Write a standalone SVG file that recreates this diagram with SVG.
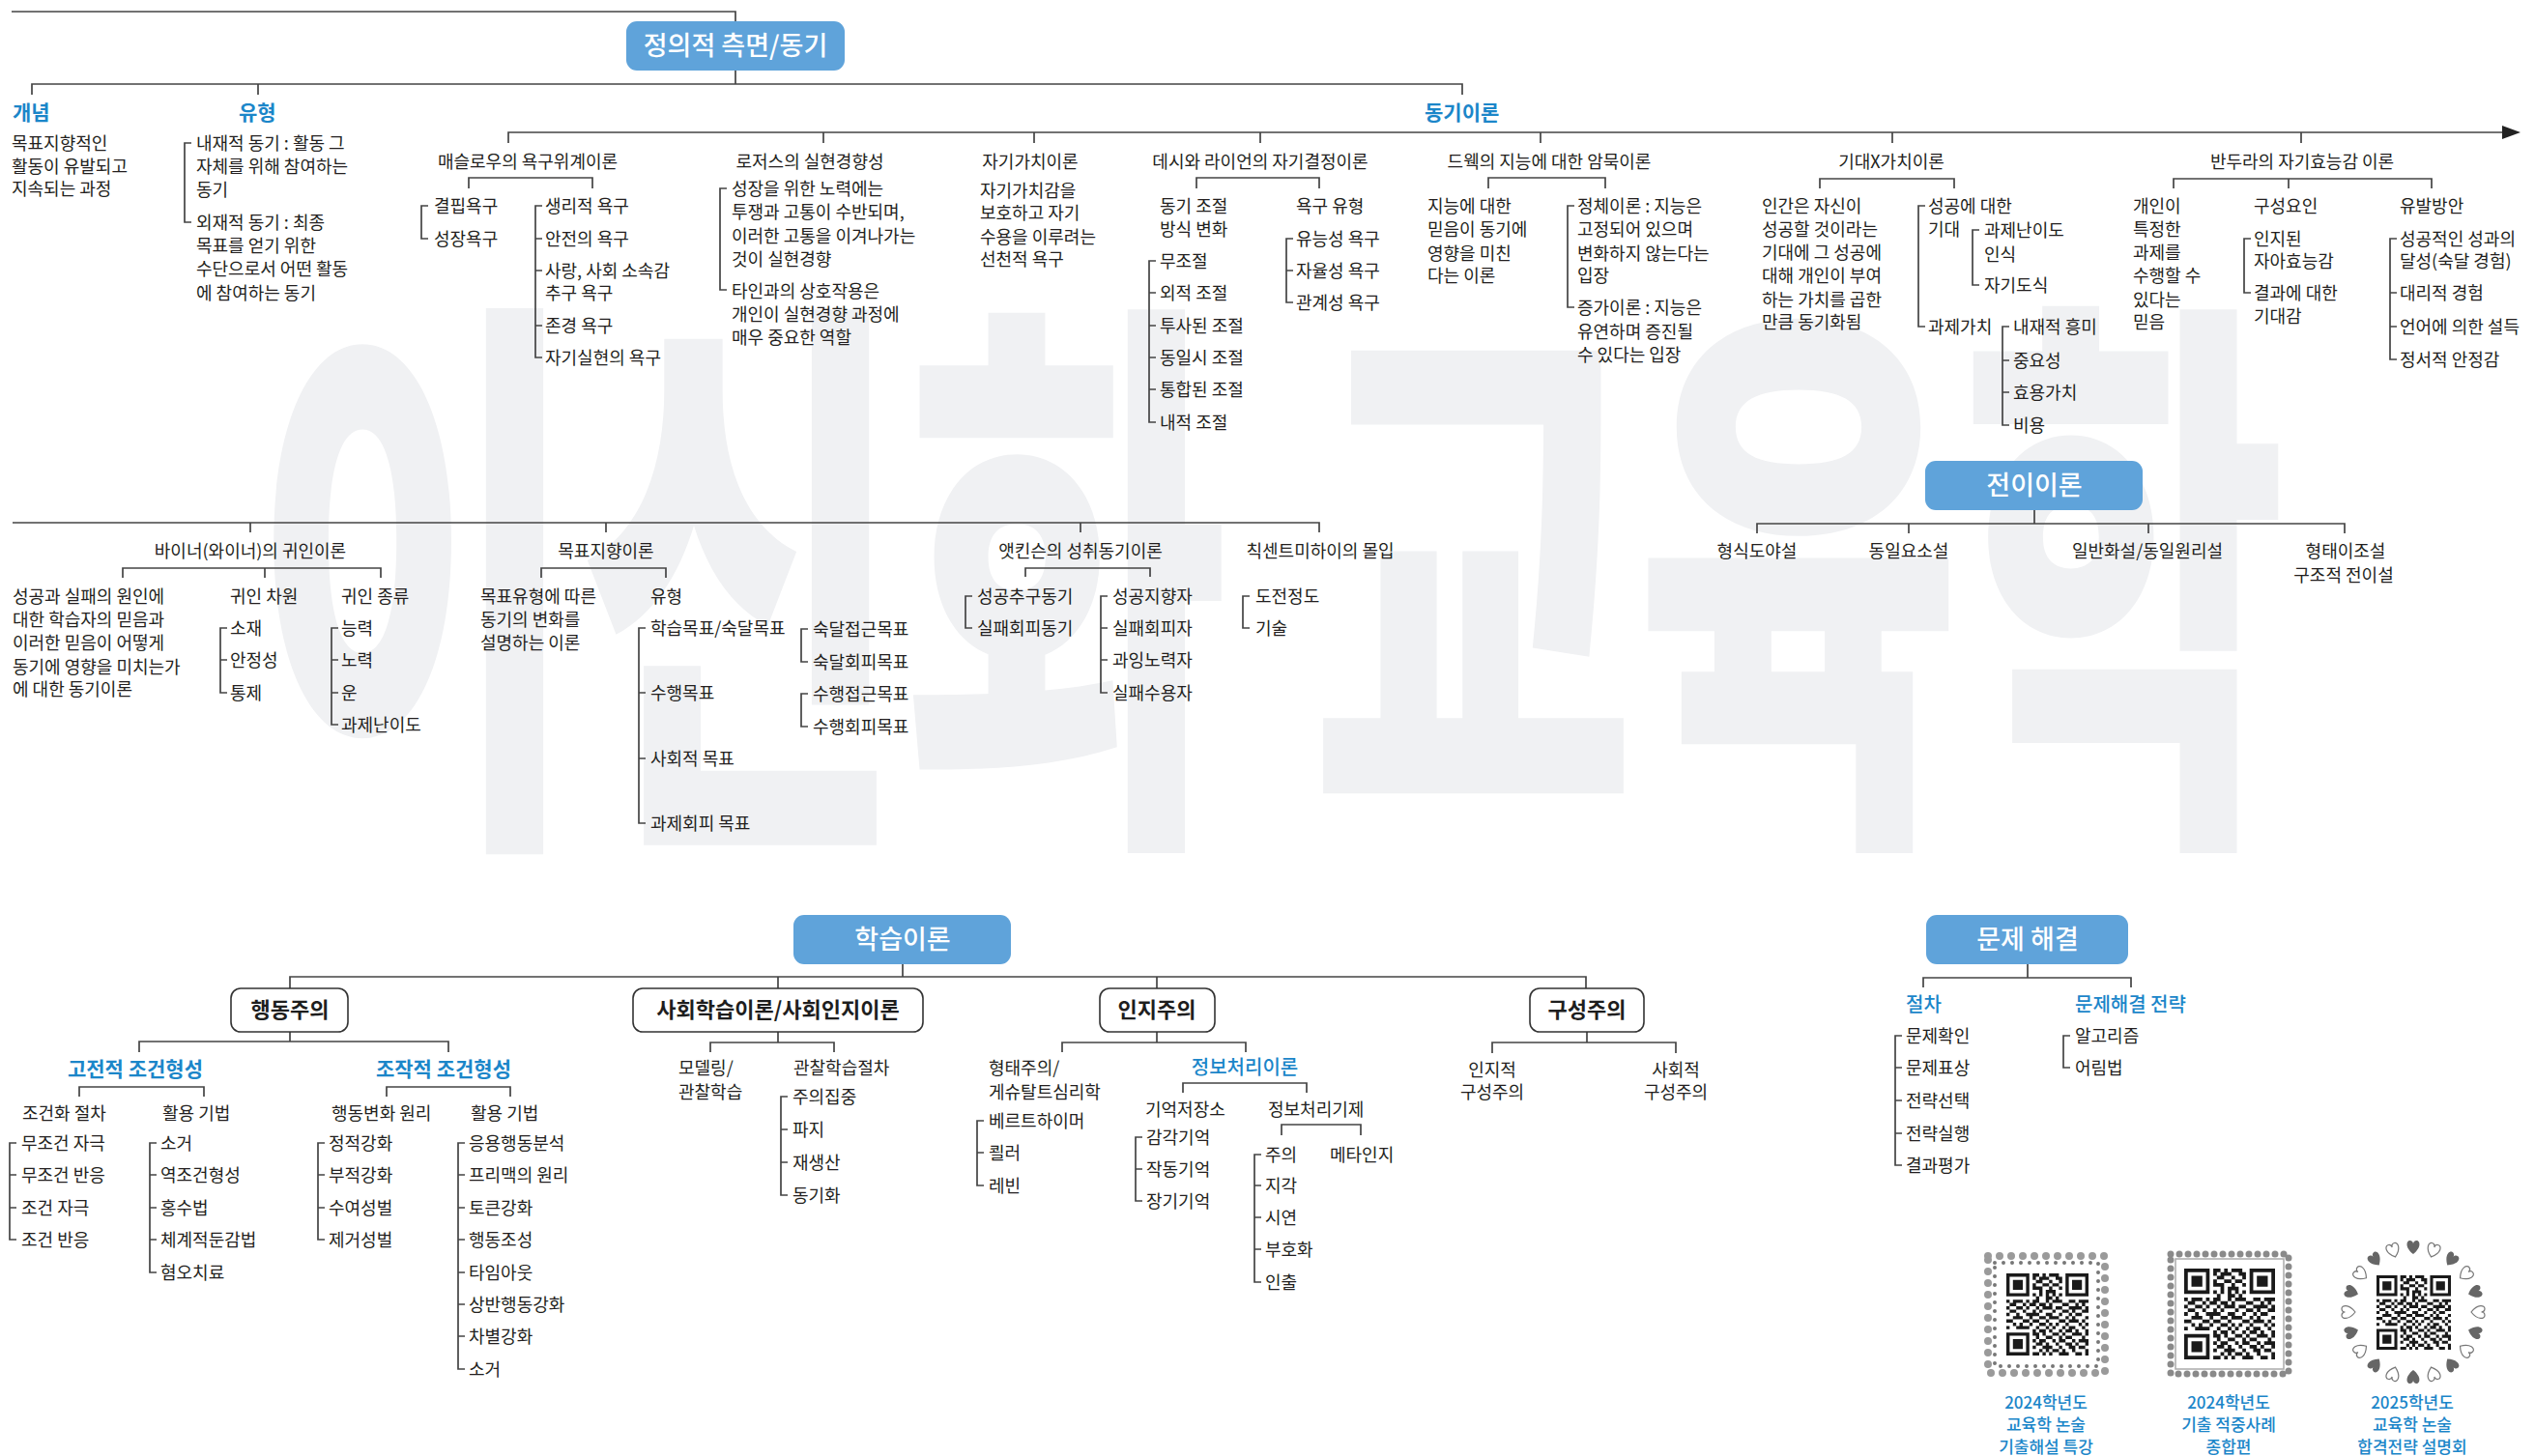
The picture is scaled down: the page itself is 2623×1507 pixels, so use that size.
<svg xmlns="http://www.w3.org/2000/svg" width="2623" height="1507" viewBox="0 0 2623 1507">
<style>
text{font-family:'Noto Sans CJK KR','Noto Sans',sans-serif;font-size:18px;fill:#231f20}
.m{text-anchor:middle}
.h{fill:#1b86c9;font-size:21px;font-weight:700}
.h2{fill:#1b86c9;font-size:20px;font-weight:500}
.bl{fill:#fff;font-size:27px;font-weight:500;text-anchor:middle}
.wt{font-size:22px;font-weight:700;text-anchor:middle;fill:#1e1e1e}
.cap{fill:#1b86c9;font-size:17px;font-weight:500;text-anchor:middle}
.ln{fill:none;stroke:#444;stroke-width:1.7}
.box{fill:#5fa3da}
.wbox{fill:#fff;stroke:#333;stroke-width:1.6}
.wm{font-size:600px;font-weight:900;fill:#f0f1f3}
</style>
<defs>
<symbol id="qr" viewBox="0 0 25 25">
<path fill="#1a1a1a" fill-rule="evenodd" d="M0 0h7v7h-7z M1 1v5h5v-5z M2 2h3v3h-3z M18 0h7v7h-7z M19 1v5h5v-5z M20 2h3v3h-3z M0 18h7v7h-7z M1 19v5h5v-5z M2 20h3v3h-3z"/>
<path fill="#1a1a1a" d="M8 0h2v1h-2z M11 0h1v1h-1z M13 0h3v1h-3z M8 1h1v1h-1z M10 1h3v1h-3z M15 1h2v1h-2z M9 2h2v1h-2z M13 2h1v1h-1z M16 2h1v1h-1z M8 3h1v1h-1z M11 3h2v1h-2z M14 3h2v1h-2z M8 4h3v1h-3z M13 4h1v1h-1z M16 4h1v1h-1z M10 5h1v1h-1z M12 5h3v1h-3z M8 6h1v1h-1z M10 6h1v1h-1z M12 6h1v1h-1z M14 6h1v1h-1z M16 6h1v1h-1z M9 7h1v1h-1z M12 7h2v1h-2z M15 7h1v1h-1z M0 8h1v1h-1z M2 8h3v1h-3z M6 8h1v1h-1z M8 8h2v1h-2z M12 8h1v1h-1z M14 8h3v1h-3z M19 8h2v1h-2z M22 8h3v1h-3z M1 9h2v1h-2z M5 9h1v1h-1z M7 9h2v1h-2z M10 9h2v1h-2z M13 9h1v1h-1z M17 9h2v1h-2z M21 9h1v1h-1z M23 9h1v1h-1z M0 10h1v1h-1z M3 10h2v1h-2z M6 10h1v1h-1z M9 10h1v1h-1z M11 10h3v1h-3z M15 10h2v1h-2z M19 10h4v1h-4z M24 10h1v1h-1z M1 11h2v1h-2z M5 11h1v1h-1z M8 11h1v1h-1z M10 11h1v1h-1z M14 11h1v1h-1z M17 11h2v1h-2z M20 11h1v1h-1z M23 11h2v1h-2z M0 12h1v1h-1z M3 12h1v1h-1z M6 12h4v1h-4z M12 12h2v1h-2z M16 12h1v1h-1z M19 12h1v1h-1z M21 12h2v1h-2z M2 13h3v1h-3z M7 13h1v1h-1z M10 13h2v1h-2z M13 13h3v1h-3z M18 13h1v1h-1z M20 13h1v1h-1z M24 13h1v1h-1z M0 14h2v1h-2z M5 14h2v1h-2z M8 14h2v1h-2z M12 14h1v1h-1z M16 14h2v1h-2z M19 14h3v1h-3z M23 14h1v1h-1z M2 15h1v1h-1z M4 15h1v1h-1z M7 15h1v1h-1z M10 15h2v1h-2z M13 15h1v1h-1z M15 15h1v1h-1z M18 15h1v1h-1z M22 15h1v1h-1z M24 15h1v1h-1z M0 16h1v1h-1z M3 16h4v1h-4z M9 16h1v1h-1z M12 16h1v1h-1z M14 16h1v1h-1z M17 16h1v1h-1z M19 16h2v1h-2z M23 16h1v1h-1z M8 17h1v1h-1z M10 17h2v1h-2z M13 17h1v1h-1z M16 17h1v1h-1z M18 17h2v1h-2z M21 17h1v1h-1z M24 17h1v1h-1z M8 18h2v1h-2z M11 18h1v1h-1z M14 18h2v1h-2z M17 18h1v1h-1z M20 18h3v1h-3z M24 18h1v1h-1z M9 19h1v1h-1z M12 19h2v1h-2z M16 19h1v1h-1z M18 19h2v1h-2z M23 19h1v1h-1z M8 20h1v1h-1z M10 20h2v1h-2z M14 20h1v1h-1z M16 20h2v1h-2z M20 20h1v1h-1z M22 20h3v1h-3z M9 21h2v1h-2z M12 21h1v1h-1z M15 21h1v1h-1z M18 21h2v1h-2z M21 21h1v1h-1z M24 21h1v1h-1z M8 22h1v1h-1z M11 22h3v1h-3z M16 22h1v1h-1z M19 22h2v1h-2z M22 22h2v1h-2z M10 23h1v1h-1z M12 23h1v1h-1z M14 23h2v1h-2z M17 23h1v1h-1z M20 23h1v1h-1z M24 23h1v1h-1z M8 24h2v1h-2z M11 24h1v1h-1z M13 24h1v1h-1z M16 24h3v1h-3z M21 24h2v1h-2z M24 24h1v1h-1z"/>
</symbol>
<path id="heart" d="M0 6 C-9 -1 -7 -8 -3.5 -8 C-1.5 -8 0 -6.5 0 -4.5 C0 -6.5 1.5 -8 3.5 -8 C7 -8 9 -1 0 6z"/>
</defs>

<rect width="2623" height="1507" fill="#fff"/>
<g id="watermark">
<text class="wm" transform="translate(262,826) scale(0.61,1)">이신화 교육학</text>
</g>

<g id="connectors">
<path class="ln" d="M12 12H761V22 M761 73V87 M33 98V87H1513V98 M267 87V98 M526 148V137H2592 M852 137V148 M1070 137V148 M1304 137V148 M1594 137V148 M1958 137V148 M2381 137V148"/>
<polygon points="2589,130 2608,137 2589,144" fill="#222"/>
<path class="ln" d="M198 148H191V230H198 M485 195V184H613V195 M443 213H436V247H443 M561 213H554V370H561 M554 247H561 M554 280H561 M554 337H561 M752 195H745V300H752 M1238 195V184H1365V195 M1196 270H1189V437H1196 M1189 303H1196 M1189 337H1196 M1189 370H1196 M1189 403H1196 M1338 247H1331V313H1338 M1331 280H1338 M1540 195V184H1661V195 M1629 213H1622V318H1629 M1883 195V185H2022V195 M1992 213H1985V338H1992 M2048 238H2041V295H2048 M2079 338H2072V440H2079 M2072 373H2079 M2072 406H2079 M2249 195V185H2516V195 M2368 185V195 M2329 247H2322V303H2329 M2480 247H2473V372H2480 M2473 303H2480 M2473 338H2480"/>
<path class="ln" d="M13 541H1365V551 M259 541V551 M627 541V551 M1118 541V551 M127 598V588H394V598 M274 588V598 M235 650H228V717H235 M228 683H235 M350 650H343V750H350 M343 683H350 M343 717H350 M560 598V588H689V598 M668 650H661V852H668 M661 717H668 M661 785H668 M836 651H829V685H836 M836 718H829V752H836 M1061 597V588H1190V597 M1006 617H999V650H1006 M1146 617H1139V717H1146 M1139 650H1146 M1139 683H1146 M1293 617H1286V650H1293 M2105 528V542 M1818 552V542H2426V552 M1975 542V552 M2223 542V552"/>
<path class="ln" d="M934 998V1011 M300 1023V1011H1641V1023 M805 1011V1023 M1197 1011V1023 M300 1068V1078 M144 1089V1078H464V1089 M82 1135V1125H211V1135 M17 1183H10V1283H17 M10 1216H17 M10 1250H17 M162 1183H155V1317H162 M155 1216H162 M155 1250H162 M155 1283H162 M400 1135V1125H528V1135 M336 1183H329V1283H336 M329 1216H336 M329 1250H336 M481 1183H474V1417H481 M474 1216H481 M474 1250H481 M474 1283H481 M474 1317H481 M474 1350H481 M474 1383H481 M805 1068V1079 M735 1089V1079H863V1089 M815 1135H808V1237H815 M808 1169H815 M808 1203H815 M1197 1068V1079 M1099 1089V1079H1289V1089 M1018 1160H1011V1227H1018 M1011 1193H1018 M1224 1131V1121H1352V1131 M1182 1177H1175V1243H1182 M1175 1210H1182 M1326 1175V1164H1408V1175 M1305 1195H1298V1327H1305 M1298 1227H1305 M1298 1260H1305 M1298 1293H1305 M1642 1068V1079 M1544 1090V1079H1734V1090 M2098 998V1012 M1990 1022V1012H2205V1022 M1968 1072H1961V1206H1968 M1961 1105H1968 M1961 1139H1968 M1961 1173H1968 M2142 1072H2135V1105H2142"/>
</g>

<g id="n-affective">
<rect class="box" x="648" y="22" width="226" height="51" rx="11"/>
<text class="bl" x="761" y="57">정의적 측면/동기</text>
</g>
<g id="n-concept">
<text class="h" x="13" y="124">개념</text>
<text x="12" y="155">목표지향적인</text>
<text x="12" y="179">활동이 유발되고</text>
<text x="12" y="202">지속되는 과정</text>
</g>
<g id="n-type">
<text class="h" x="247" y="124">유형</text>
<text x="203" y="155">내재적 동기 : 활동 그</text>
<text x="203" y="179">자체를 위해 참여하는</text>
<text x="203" y="203">동기</text>
<text x="203" y="237">외재적 동기 : 최종</text>
<text x="203" y="261">목표를 얻기 위한</text>
<text x="203" y="285">수단으로서 어떤 활동</text>
<text x="203" y="310">에 참여하는 동기</text>
</g>
<g id="n-motivation">
<text class="h" x="1474" y="124">동기이론</text>
</g>
<g id="n-maslow">
<text class="m" x="546" y="174">매슬로우의 욕구위계이론</text>
<text x="449" y="220">결핍욕구</text>
<text x="449" y="254">성장욕구</text>
<text x="564" y="220">생리적 욕구</text>
<text x="564" y="254">안전의 욕구</text>
<text x="564" y="287">사랑, 사회 소속감</text>
<text x="564" y="310">추구 욕구</text>
<text x="564" y="344">존경 욕구</text>
<text x="564" y="377">자기실현의 욕구</text>
</g>
<g id="n-rogers">
<text class="m" x="838" y="174">로저스의 실현경향성</text>
<text x="757" y="202">성장을 위한 노력에는</text>
<text x="757" y="226">투쟁과 고통이 수반되며,</text>
<text x="757" y="251">이러한 고통을 이겨나가는</text>
<text x="757" y="275">것이 실현경향</text>
<text x="757" y="308">타인과의 상호작용은</text>
<text x="757" y="332">개인이 실현경향 과정에</text>
<text x="757" y="356">매우 중요한 역할</text>
</g>
<g id="n-selfworth">
<text class="m" x="1066" y="174">자기가치이론</text>
<text x="1014" y="204">자기가치감을</text>
<text x="1014" y="227">보호하고 자기</text>
<text x="1014" y="252">수용을 이루려는</text>
<text x="1014" y="275">선천적 욕구</text>
</g>
<g id="n-deci">
<text class="m" x="1304" y="174">데시와 라이언의 자기결정이론</text>
<text x="1200" y="220">동기 조절</text>
<text x="1200" y="244">방식 변화</text>
<text x="1341" y="220">욕구 유형</text>
<text x="1200" y="277">무조절</text>
<text x="1200" y="310">외적 조절</text>
<text x="1200" y="344">투사된 조절</text>
<text x="1200" y="377">동일시 조절</text>
<text x="1200" y="410">통합된 조절</text>
<text x="1200" y="444">내적 조절</text>
<text x="1341" y="254">유능성 욕구</text>
<text x="1341" y="287">자율성 욕구</text>
<text x="1341" y="320">관계성 욕구</text>
</g>
<g id="n-dweck">
<text class="m" x="1603" y="174">드웩의 지능에 대한 암묵이론</text>
<text x="1477" y="220">지능에 대한</text>
<text x="1477" y="244">믿음이 동기에</text>
<text x="1477" y="269">영향을 미친</text>
<text x="1477" y="292">다는 이론</text>
<text x="1632" y="220">정체이론 : 지능은</text>
<text x="1632" y="244">고정되어 있으며</text>
<text x="1632" y="269">변화하지 않는다는</text>
<text x="1632" y="292">입장</text>
<text x="1632" y="325">증가이론 : 지능은</text>
<text x="1632" y="350">유연하며 증진될</text>
<text x="1632" y="374">수 있다는 입장</text>
</g>
<g id="n-expectancy">
<text class="m" x="1957" y="174">기대X가치이론</text>
<text x="1823" y="220">인간은 자신이</text>
<text x="1823" y="244">성공할 것이라는</text>
<text x="1823" y="268">기대에 그 성공에</text>
<text x="1823" y="292">대해 개인이 부여</text>
<text x="1823" y="317">하는 가치를 곱한</text>
<text x="1823" y="340">만큼 동기화됨</text>
<text x="1995" y="220">성공에 대한</text>
<text x="1995" y="244">기대</text>
<text x="2053" y="245">과제난이도</text>
<text x="2053" y="270">인식</text>
<text x="2053" y="302">자기도식</text>
<text x="1995" y="345">과제가치</text>
<text x="2083" y="345">내재적 흥미</text>
<text x="2083" y="380">중요성</text>
<text x="2083" y="413">효용가치</text>
<text x="2083" y="447">비용</text>
</g>
<g id="n-bandura">
<text class="m" x="2382" y="174">반두라의 자기효능감 이론</text>
<text x="2207" y="220">개인이</text>
<text x="2207" y="244">특정한</text>
<text x="2207" y="268">과제를</text>
<text x="2207" y="292">수행할 수</text>
<text x="2207" y="317">있다는</text>
<text x="2207" y="340">믿음</text>
<text x="2332" y="220">구성요인</text>
<text x="2332" y="254">인지된</text>
<text x="2332" y="277">자아효능감</text>
<text x="2332" y="310">결과에 대한</text>
<text x="2332" y="334">기대감</text>
<text x="2483" y="220">유발방안</text>
<text x="2483" y="254">성공적인 성과의</text>
<text x="2483" y="277">달성(숙달 경험)</text>
<text x="2483" y="310">대리적 경험</text>
<text x="2483" y="345">언어에 의한 설득</text>
<text x="2483" y="379">정서적 안정감</text>
</g>

<g id="n-weiner">
<text class="m" x="259" y="577">바이너(와이너)의 귀인이론</text>
<text x="13" y="624">성공과 실패의 원인에</text>
<text x="13" y="648">대한 학습자의 믿음과</text>
<text x="13" y="672">이러한 믿음이 어떻게</text>
<text x="13" y="697">동기에 영향을 미치는가</text>
<text x="13" y="720">에 대한 동기이론</text>
<text x="238" y="624">귀인 차원</text>
<text x="238" y="657">소재</text>
<text x="238" y="690">안정성</text>
<text x="238" y="724">통제</text>
<text x="353" y="624">귀인 종류</text>
<text x="353" y="657">능력</text>
<text x="353" y="690">노력</text>
<text x="353" y="724">운</text>
<text x="353" y="757">과제난이도</text>
</g>
<g id="n-goal">
<text class="m" x="627" y="577">목표지향이론</text>
<text x="497" y="624">목표유형에 따른</text>
<text x="497" y="648">동기의 변화를</text>
<text x="497" y="672">설명하는 이론</text>
<text x="673" y="624">유형</text>
<text x="673" y="657">학습목표/숙달목표</text>
<text x="673" y="724">수행목표</text>
<text x="673" y="792">사회적 목표</text>
<text x="673" y="859">과제회피 목표</text>
<text x="841" y="658">숙달접근목표</text>
<text x="841" y="692">숙달회피목표</text>
<text x="841" y="725">수행접근목표</text>
<text x="841" y="759">수행회피목표</text>
</g>
<g id="n-atkinson">
<text class="m" x="1118" y="577">앳킨슨의 성취동기이론</text>
<text x="1011" y="624">성공추구동기</text>
<text x="1011" y="657">실패회피동기</text>
<text x="1151" y="624">성공지향자</text>
<text x="1151" y="657">실패회피자</text>
<text x="1151" y="690">과잉노력자</text>
<text x="1151" y="724">실패수용자</text>
</g>
<g id="n-flow">
<text class="m" x="1366" y="577">칙센트미하이의 몰입</text>
<text x="1299" y="624">도전정도</text>
<text x="1299" y="657">기술</text>
</g>
<g id="n-transfer">
<rect class="box" x="1992" y="477" width="225" height="51" rx="11"/>
<text class="bl" x="2105" y="512">전이이론</text>
<text class="m" x="1818" y="577">형식도야설</text>
<text class="m" x="1975" y="577">동일요소설</text>
<text class="m" x="2222" y="577">일반화설/동일원리설</text>
<text class="m" x="2427" y="577">형태이조설</text>
<text class="m" x="2425" y="602">구조적 전이설</text>
</g>

<g id="n-learning">
<rect class="box" x="821" y="947" width="225" height="51" rx="11"/>
<text class="bl" x="934" y="982">학습이론</text>
</g>
<g id="n-behaviorism">
<rect class="wbox" x="239" y="1023" width="121" height="45" rx="10"/>
<text class="wt" x="300" y="1053">행동주의</text>
<text class="h m" x="140" y="1114">고전적 조건형성</text>
<text x="23" y="1159">조건화 절차</text>
<text x="168" y="1159">활용 기법</text>
<text x="22" y="1190">무조건 자극</text>
<text x="22" y="1223">무조건 반응</text>
<text x="22" y="1257">조건 자극</text>
<text x="22" y="1290">조건 반응</text>
<text x="166" y="1190">소거</text>
<text x="166" y="1223">역조건형성</text>
<text x="166" y="1257">홍수법</text>
<text x="166" y="1290">체계적둔감법</text>
<text x="166" y="1324">혐오치료</text>
<text class="h m" x="459" y="1114">조작적 조건형성</text>
<text x="343" y="1159">행동변화 원리</text>
<text x="487" y="1159">활용 기법</text>
<text x="340" y="1190">정적강화</text>
<text x="340" y="1223">부적강화</text>
<text x="340" y="1257">수여성벌</text>
<text x="340" y="1290">제거성벌</text>
<text x="485" y="1190">응용행동분석</text>
<text x="485" y="1223">프리맥의 원리</text>
<text x="485" y="1257">토큰강화</text>
<text x="485" y="1290">행동조성</text>
<text x="485" y="1324">타임아웃</text>
<text x="485" y="1357">상반행동강화</text>
<text x="485" y="1390">차별강화</text>
<text x="485" y="1424">소거</text>
</g>
<g id="n-social">
<rect class="wbox" x="655" y="1023" width="300" height="45" rx="10"/>
<text class="wt" x="805" y="1053">사회학습이론/사회인지이론</text>
<text x="702" y="1112">모델링/</text>
<text x="702" y="1137">관찰학습</text>
<text x="821" y="1112">관찰학습절차</text>
<text x="820" y="1142">주의집중</text>
<text x="820" y="1176">파지</text>
<text x="820" y="1210">재생산</text>
<text x="820" y="1244">동기화</text>
</g>
<g id="n-cognitivism">
<rect class="wbox" x="1138" y="1023" width="119" height="45" rx="10"/>
<text class="wt" x="1197" y="1053">인지주의</text>
<text x="1023" y="1112">형태주의/</text>
<text x="1023" y="1137">게슈탈트심리학</text>
<text x="1023" y="1167">베르트하이머</text>
<text x="1023" y="1200">쾰러</text>
<text x="1023" y="1234">레빈</text>
<text class="h2 m" x="1288" y="1112">정보처리이론</text>
<text x="1185" y="1155">기억저장소</text>
<text x="1312" y="1155">정보처리기제</text>
<text x="1186" y="1184">감각기억</text>
<text x="1186" y="1217">작동기억</text>
<text x="1186" y="1250">장기기억</text>
<text x="1309" y="1202">주의</text>
<text x="1376" y="1202">메타인지</text>
<text x="1309" y="1234">지각</text>
<text x="1309" y="1267">시연</text>
<text x="1309" y="1300">부호화</text>
<text x="1309" y="1334">인출</text>
</g>
<g id="n-constructivism">
<rect class="wbox" x="1583" y="1023" width="118" height="45" rx="10"/>
<text class="wt" x="1642" y="1053">구성주의</text>
<text class="m" x="1544" y="1114">인지적</text>
<text class="m" x="1544" y="1137">구성주의</text>
<text class="m" x="1734" y="1114">사회적</text>
<text class="m" x="1734" y="1137">구성주의</text>
</g>
<g id="n-problem">
<rect class="box" x="1993" y="947" width="209" height="51" rx="11"/>
<text class="bl" x="2098" y="982">문제 해결</text>
<text class="h2" x="1972" y="1047">절차</text>
<text class="h2" x="2147" y="1047">문제해결 전략</text>
<text x="1972" y="1079">문제확인</text>
<text x="1972" y="1112">문제표상</text>
<text x="1972" y="1146">전략선택</text>
<text x="1972" y="1180">전략실행</text>
<text x="1972" y="1213">결과평가</text>
<text x="2147" y="1079">알고리즘</text>
<text x="2147" y="1112">어림법</text>
</g>

<g id="qr1">
<rect x="2057" y="1300" width="121" height="121" fill="none" stroke="#9a9a9a" stroke-width="8" stroke-linecap="round" stroke-dasharray="0 12"/>
<rect x="2064" y="1307" width="107" height="107" fill="none" stroke="#777" stroke-width="4" stroke-linecap="round" stroke-dasharray="0 9"/>
<use href="#qr" x="2076" y="1318" width="85" height="85"/>
<text class="cap" x="2117" y="1458">2024학년도</text>
<text class="cap" x="2117" y="1481">교육학 논술</text>
<text class="cap" x="2117" y="1504">기출해설 특강</text>
</g>
<g id="qr2">
<rect x="2246" y="1298" width="122" height="124" fill="none" stroke="#8a8a8a" stroke-width="7" stroke-linecap="round" stroke-dasharray="0 9"/>
<rect x="2251" y="1303" width="112" height="114" fill="#fff" stroke="#aaa" stroke-width="1.5"/>
<use href="#qr" x="2260" y="1313" width="94" height="94"/>
<text class="cap" x="2306" y="1458">2024학년도</text>
<text class="cap" x="2306" y="1481">기출 적중사례</text>
<text class="cap" x="2306" y="1504">종합편</text>
</g>
<g id="qr3">
<g fill="#666">
<use href="#heart" transform="translate(2497 1358) rotate(0) translate(0 -66)"/>
<use href="#heart" transform="translate(2497 1358) rotate(36) translate(0 -66)"/>
<use href="#heart" transform="translate(2497 1358) rotate(72) translate(0 -66)"/>
<use href="#heart" transform="translate(2497 1358) rotate(108) translate(0 -66)"/>
<use href="#heart" transform="translate(2497 1358) rotate(144) translate(0 -66)"/>
<use href="#heart" transform="translate(2497 1358) rotate(180) translate(0 -66)"/>
<use href="#heart" transform="translate(2497 1358) rotate(216) translate(0 -66)"/>
<use href="#heart" transform="translate(2497 1358) rotate(252) translate(0 -66)"/>
<use href="#heart" transform="translate(2497 1358) rotate(288) translate(0 -66)"/>
<use href="#heart" transform="translate(2497 1358) rotate(324) translate(0 -66)"/>
</g>
<g fill="#fff" stroke="#777" stroke-width="1.2">
<use href="#heart" transform="translate(2497 1358) rotate(18) translate(0 -66)"/>
<use href="#heart" transform="translate(2497 1358) rotate(54) translate(0 -66)"/>
<use href="#heart" transform="translate(2497 1358) rotate(90) translate(0 -66)"/>
<use href="#heart" transform="translate(2497 1358) rotate(126) translate(0 -66)"/>
<use href="#heart" transform="translate(2497 1358) rotate(162) translate(0 -66)"/>
<use href="#heart" transform="translate(2497 1358) rotate(198) translate(0 -66)"/>
<use href="#heart" transform="translate(2497 1358) rotate(234) translate(0 -66)"/>
<use href="#heart" transform="translate(2497 1358) rotate(270) translate(0 -66)"/>
<use href="#heart" transform="translate(2497 1358) rotate(306) translate(0 -66)"/>
<use href="#heart" transform="translate(2497 1358) rotate(342) translate(0 -66)"/>
</g>
<use href="#qr" x="2459" y="1320" width="77" height="77"/>
<text class="cap" x="2496" y="1458">2025학년도</text>
<text class="cap" x="2496" y="1481">교육학 논술</text>
<text class="cap" x="2496" y="1504">합격전략 설명회</text>
</g>
</svg>
